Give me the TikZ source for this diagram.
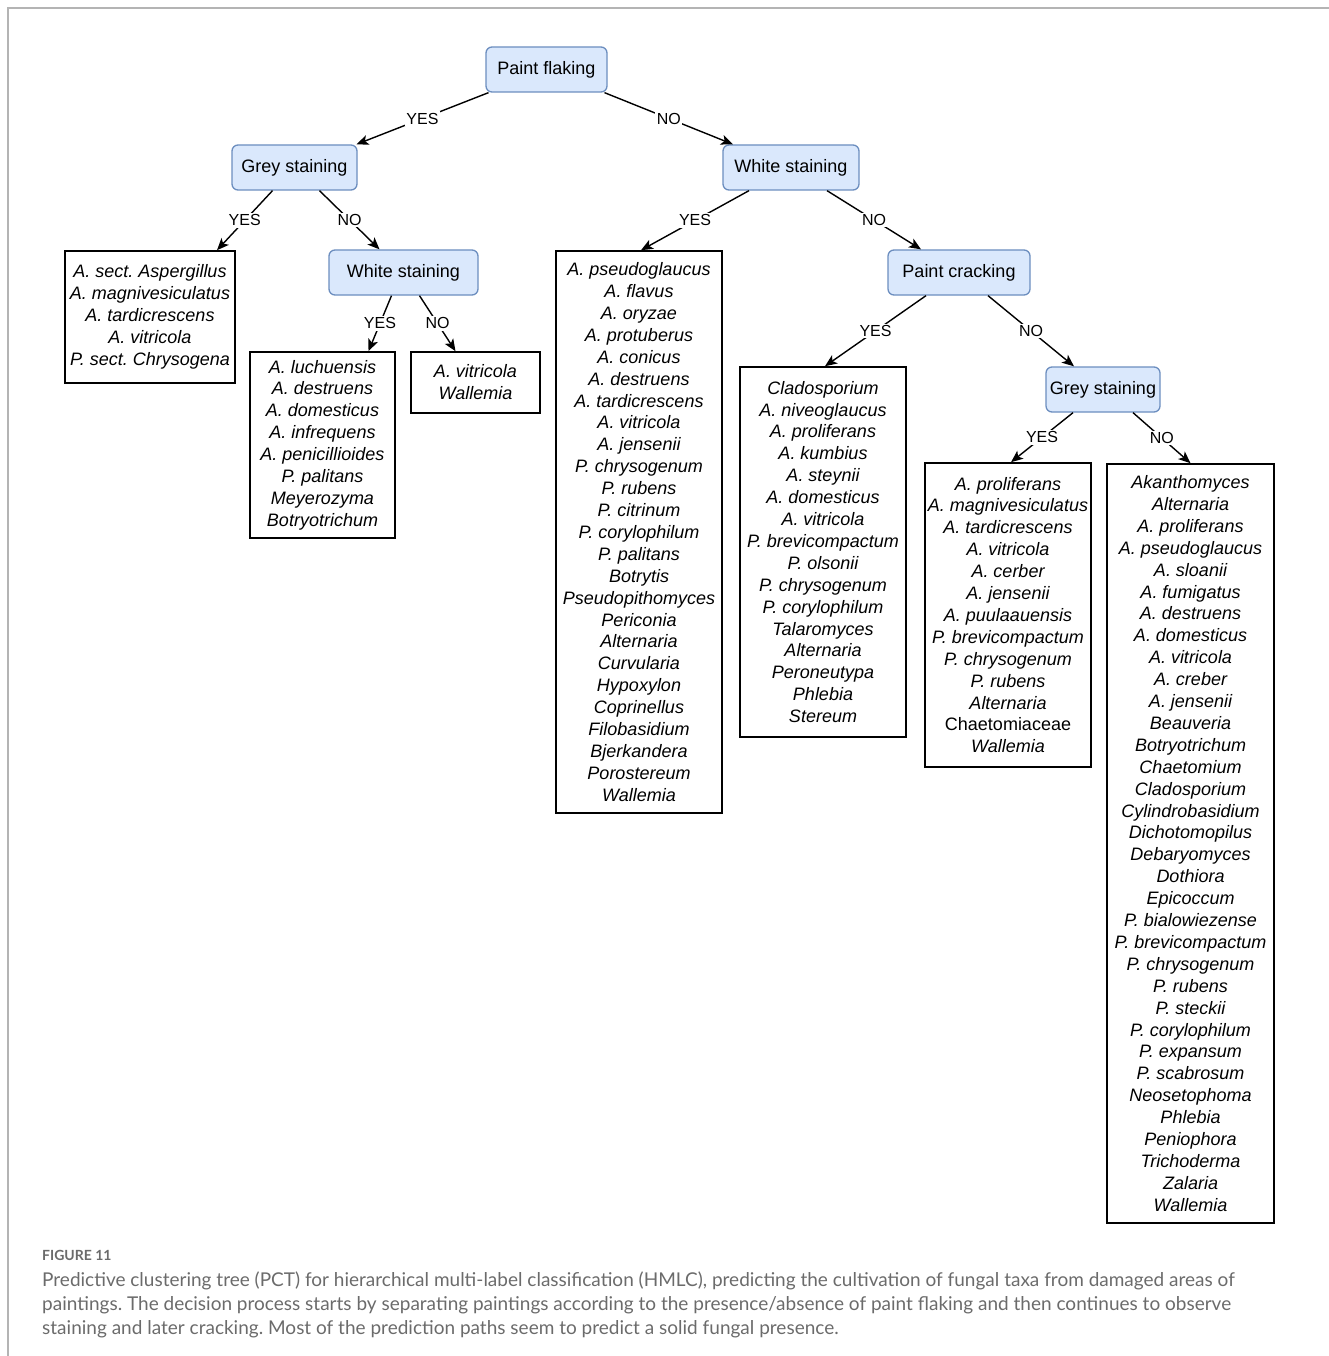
\documentclass[tikz,border=0pt]{standalone}
\usepackage{fontspec}
\setmainfont{Liberation Sans}
\newfontfamily\capfont{Lato}
\usepackage{xcolor}
\usetikzlibrary{arrows.meta,positioning}
\definecolor{testfill}{HTML}{DAE8FC}
\definecolor{testline}{HTML}{6C8EBF}
\definecolor{framegray}{HTML}{B4B4B4}
\definecolor{captext}{HTML}{6B6B6B}
\frenchspacing
\tikzset{
  test/.style={draw=testline, fill=testfill, rounded corners=6pt, line width=1.3pt,
    minimum height=45pt, inner sep=0pt, font=\fontsize{18pt}{21.9pt}\selectfont},
  leaf/.style={draw, line width=1.6pt, align=center, inner sep=0pt,
    font=\fontsize{18pt}{21.9pt}\selectfont\itshape},
  branch/.style={-{Stealth[length=12pt,width=10pt,inset=3pt]}, line width=1.4pt},
  answer/.style={fill=white, inner sep=1.5pt, font=\fontsize{16pt}{16pt}\selectfont}
}

\begin{document}
\begin{tikzpicture}[x=1pt,y=-1pt]
\useasboundingbox (0,0) rectangle (1329,1356);
\draw[framegray, line width=1.2pt] (8,1356) -- (8,8) -- (1329,8);

\foreach \name/\x/\y/\w/\label in {
  pf/546.5/69.5/121/{Paint flaking},
  gsa/294.5/167.5/125/{Grey staining},
  wsa/791/167.5/136/{White staining},
  wsb/403.5/272.5/149/{White staining},
  pc/959/272.5/142/{Paint cracking},
  gsb/1103/389.5/114/{Grey staining}
} {
  \node[test, minimum width=\w pt] (\name) at (\x,\y) {\label};
}

\node[leaf, minimum width=170pt, minimum height=132pt] (leafa) at (150,317)
  {A. sect. Aspergillus\\A. magnivesiculatus\\A. tardicrescens\\A. vitricola\\P. sect. Chrysogena};
\node[leaf, minimum width=145pt, minimum height=186pt] (leafb) at (322.5,445)
  {A. luchuensis\\A. destruens\\A. domesticus\\A. infrequens\\A. penicillioides\\P. palitans\\Meyerozyma\\Botryotrichum};
\node[leaf, minimum width=129pt, minimum height=61pt] (leafc) at (475.5,382.5)
  {A. vitricola\\Wallemia};
\node[leaf, minimum width=166pt, minimum height=562pt] (leafd) at (639,532)
  {A. pseudoglaucus\\A. flavus\\A. oryzae\\A. protuberus\\A. conicus\\A. destruens\\A. tardicrescens\\A. vitricola\\A. jensenii\\P. chrysogenum\\P. rubens\\P. citrinum\\P. corylophilum\\P. palitans\\Botrytis\\Pseudopithomyces\\Periconia\\Alternaria\\Curvularia\\Hypoxylon\\Coprinellus\\Filobasidium\\Bjerkandera\\Porostereum\\Wallemia};
\node[leaf, minimum width=166pt, minimum height=370pt] (leafe) at (823,552)
  {Cladosporium\\A. niveoglaucus\\A. proliferans\\A. kumbius\\A. steynii\\A. domesticus\\A. vitricola\\P. brevicompactum\\P. olsonii\\P. chrysogenum\\P. corylophilum\\Talaromyces\\Alternaria\\Peroneutypa\\Phlebia\\Stereum};
\node[leaf, minimum width=166pt, minimum height=304pt] (leaff) at (1008,615)
  {A. proliferans\\A. magnivesiculatus\\A. tardicrescens\\A. vitricola\\A. cerber\\A. jensenii\\A. puulaauensis\\P. brevicompactum\\P. chrysogenum\\P. rubens\\Alternaria\\{\upshape Chaetomiaceae}\\Wallemia};
\node[leaf, minimum width=167pt, minimum height=759pt] (leafg) at (1190.5,843.5)
  {Akanthomyces\\Alternaria\\A. proliferans\\A. pseudoglaucus\\A. sloanii\\A. fumigatus\\A. destruens\\A. domesticus\\A. vitricola\\A. creber\\A. jensenii\\Beauveria\\Botryotrichum\\Chaetomium\\Cladosporium\\Cylindrobasidium\\Dichotomopilus\\Debaryomyces\\Dothiora\\Epicoccum\\P. bialowiezense\\P. brevicompactum\\P. chrysogenum\\P. rubens\\P. steckii\\P. corylophilum\\P. expansum\\P. scabrosum\\Neosetophoma\\Phlebia\\Peniophora\\Trichoderma\\Zalaria\\Wallemia};

\foreach \from/\fx/\to/\tx/\ans in {
  pf/-58/gsa/62/YES, pf/58/wsa/-58/NO,
  gsa/-22/leafa/67/YES, gsa/25/wsb/-24/NO,
  wsa/-42/leafd/2/YES, wsa/36/pc/-38/NO,
  wsb/-12/leafb/46/YES, wsb/16/leafc/-20/NO,
  pc/-33/leafe/2/YES, pc/29/gsb/-29/NO,
  gsb/-30/leaff/3/YES, gsb/30/leafg/0/NO
} {
  \draw[branch] ([xshift=\fx pt]\from.south) -- node[answer] {\ans} ([xshift=\tx pt]\to.north);
}

\node[anchor=base west, inner sep=0pt, text=captext,
  font=\capfont\bfseries\fontsize{14pt}{14pt}\selectfont] (fignum) at (42,1260) {FIGURE 11};
\node[anchor=north west, align=left, inner sep=0pt, text=captext,
  font=\capfont\fontsize{19pt}{24pt}\selectfont] (caption) at (42,1272)
  {Predictive clustering tree (PCT) for hierarchical multi-label classification (HMLC), predicting the cultivation of fungal taxa from damaged areas of\\
   paintings. The decision process starts by separating paintings according to the presence/absence of paint flaking and then continues to observe\\
   staining and later cracking. Most of the prediction paths seem to predict a solid fungal presence.};
\end{tikzpicture}
\end{document}
